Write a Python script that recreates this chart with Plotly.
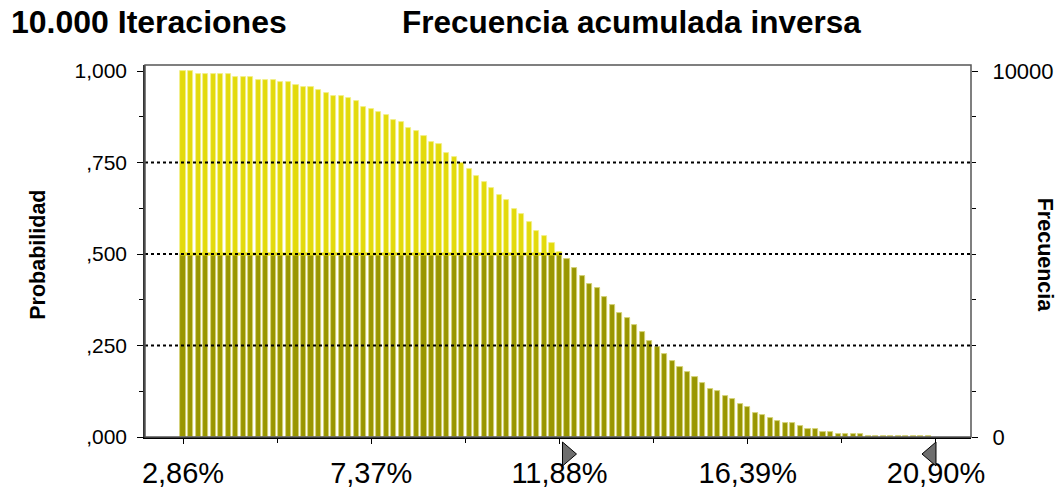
import numpy as np
import plotly.graph_objects as go

# ---- data ----
x_min = 2.86
x_max = 20.90
n_bins = 100
prob = [
    1.000, 1.000, 0.992, 0.992, 0.992, 0.992, 0.992, 0.983, 0.983, 0.983,
    0.976, 0.976, 0.976, 0.969, 0.969, 0.962, 0.956, 0.956, 0.948, 0.939,
    0.933, 0.932, 0.926, 0.917, 0.903, 0.896, 0.889, 0.881, 0.866, 0.860,
    0.843, 0.836, 0.823, 0.807, 0.800, 0.777, 0.764, 0.750, 0.733, 0.713,
    0.698, 0.681, 0.660, 0.647, 0.624, 0.609, 0.588, 0.564, 0.550, 0.529,
    0.506, 0.486, 0.463, 0.440, 0.419, 0.406, 0.382, 0.361, 0.340, 0.324,
    0.305, 0.287, 0.263, 0.245, 0.227, 0.207, 0.191, 0.177, 0.164, 0.148,
    0.132, 0.126, 0.111, 0.104, 0.089, 0.082, 0.065, 0.059, 0.052, 0.045,
    0.038, 0.038, 0.029, 0.023, 0.023, 0.015, 0.015, 0.009, 0.009, 0.009,
    0.009, 0.002, 0.002, 0.002, 0.002, 0.002, 0.002, 0.002, 0.002, 0.002,
]
certainty_level = 0.5
certainty_range = [11.88, 20.90]
x_tick_vals = [2.86, 7.37, 11.88, 16.39, 20.90]
x_tick_text = ["2,86%", "7,37%", "11,88%", "16,39%", "20,90%"]
y_tick_vals = [0.0, 0.25, 0.5, 0.75, 1.0]
y_tick_text = [",000", ",250", ",500", ",750", "1,000"]
grid_vals = [0.25, 0.5, 0.75]
iterations = 10000

bin_w = (x_max - x_min) / n_bins
xs = [x_min + i * bin_w for i in range(n_bins)]
lower = [min(p, certainty_level) for p in prob]

YELLOW = "#e3da0b"
OLIVE = "#999600"
FONT = "Liberation Sans, Arial, sans-serif"

fig = go.Figure()
fig.add_trace(go.Bar(x=xs, y=prob, width=bin_w * 0.68, marker=dict(color=YELLOW, line=dict(color="#f3ef8a", width=0.8)),
                     hoverinfo="skip", showlegend=False))
fig.add_trace(go.Bar(x=xs, y=lower, width=bin_w * 0.68, marker=dict(color=OLIVE, line=dict(color="#d6d48c", width=0.8)),
                     hoverinfo="skip", showlegend=False))
# invisible trace to carry the right axis
fig.add_trace(go.Scatter(x=[xs[0]], y=[0], yaxis="y2", mode="markers", marker=dict(opacity=0),
                         hoverinfo="skip", showlegend=False))

ymax = 1.0164
shapes = []
# yellow band at certainty level
shapes.append(dict(type="line", xref="x", yref="y", x0=xs[0] - bin_w * 0.34, x1=certainty_range[0] + bin_w * 0.34,
                   y0=certainty_level, y1=certainty_level, line=dict(color=YELLOW, width=3), layer="above"))
for g in grid_vals:
    shapes.append(dict(type="line", xref="paper", yref="y", x0=0, x1=1, y0=g, y1=g,
                       line=dict(color="black", width=2, dash="dot"), layer="above"))
shapes.append(dict(type="rect", xref="paper", yref="paper", x0=0, x1=1, y0=0, y1=1,
                   line=dict(color="#555", width=1.5), layer="above"))
# certainty grabbers (pixel-sized triangles anchored at the range ends, below the axis)
shapes.append(dict(type="path", xref="x", yref="paper", xsizemode="pixel", ysizemode="pixel",
                   xanchor=certainty_range[0], yanchor=0,
                   path="M 3,-5 L 3,-29 L 17,-17 Z",
                   fillcolor="#6e6e6e", line=dict(color="#000", width=1)))
shapes.append(dict(type="path", xref="x", yref="paper", xsizemode="pixel", ysizemode="pixel",
                   xanchor=certainty_range[1], yanchor=0,
                   path="M 0,-5 L 0,-29 L -14,-17 Z",
                   fillcolor="#6e6e6e", line=dict(color="#000", width=1)))

fig.update_layout(
    width=1064, height=504,
    margin=dict(l=145, r=93, t=65, b=67, autoexpand=False),
    paper_bgcolor="white", plot_bgcolor="white",
    barmode="overlay", bargap=0,
    font=dict(family=FONT, color="black"),
    shapes=shapes,
    xaxis=dict(range=[x_min - 38 / 41.74, x_min + 788 / 41.74], tickvals=x_tick_vals, ticktext=x_tick_text,
               ticks="outside", ticklen=5, tickcolor="black", showgrid=False, zeroline=False,
               showline=True, linecolor="black", linewidth=1.5, automargin=False,
               tickfont=dict(size=29), ticklabelstandoff=4,
               minor=dict(tick0=x_min, dtick=(x_max - x_min) / 8, ticks="outside", ticklen=4, tickcolor="black")),
    yaxis=dict(range=[0, ymax], tickvals=y_tick_vals, ticktext=y_tick_text, ticks="outside", ticklen=6,
               tickcolor="black", showgrid=False, zeroline=False, showline=True, linecolor="#333", linewidth=1.5,
               tickfont=dict(size=21), ticklabelstandoff=6, automargin=False,
               minor=dict(dtick=0.125, ticks="outside", ticklen=4, tickcolor="black")),
    yaxis2=dict(overlaying="y", side="right", range=[0, iterations * ymax], tickvals=[0, iterations],
                ticktext=["0", str(iterations)], ticks="outside", ticklen=6, tickcolor="black",
                showgrid=False, zeroline=False, showline=False, tickfont=dict(size=22), ticklabelstandoff=10,
                automargin=False,
                minor=dict(dtick=iterations / 8, ticks="outside", ticklen=4, tickcolor="black")),
    annotations=[
        dict(text="<b>10.000 Iteraciones</b>", xref="paper", yref="paper", x=(9 - 145) / 826, y=(437 - 22) / 372,
             xanchor="left", yanchor="middle", showarrow=False, font=dict(size=32)),
        dict(text="<b>Frecuencia acumulada inversa</b>", xref="paper", yref="paper", x=(631 - 145) / 826,
             y=(437 - 22) / 372, xanchor="center", yanchor="middle", showarrow=False, font=dict(size=31.5)),
        dict(text="<b>Probabilidad</b>", xref="paper", yref="paper", x=(38 - 145) / 826, y=0.49,
             xanchor="center", yanchor="middle", textangle=-90, showarrow=False, font=dict(size=21.5)),
        dict(text="<b>Frecuencia</b>", xref="paper", yref="paper", x=(1045 - 145) / 826, y=0.49,
             xanchor="center", yanchor="middle", textangle=90, showarrow=False, font=dict(size=21.5)),
    ],
)

fig.write_html("out.html", config={"displayModeBar": False},
               post_script="document.body.style.margin='0';document.body.style.overflow='hidden';")
